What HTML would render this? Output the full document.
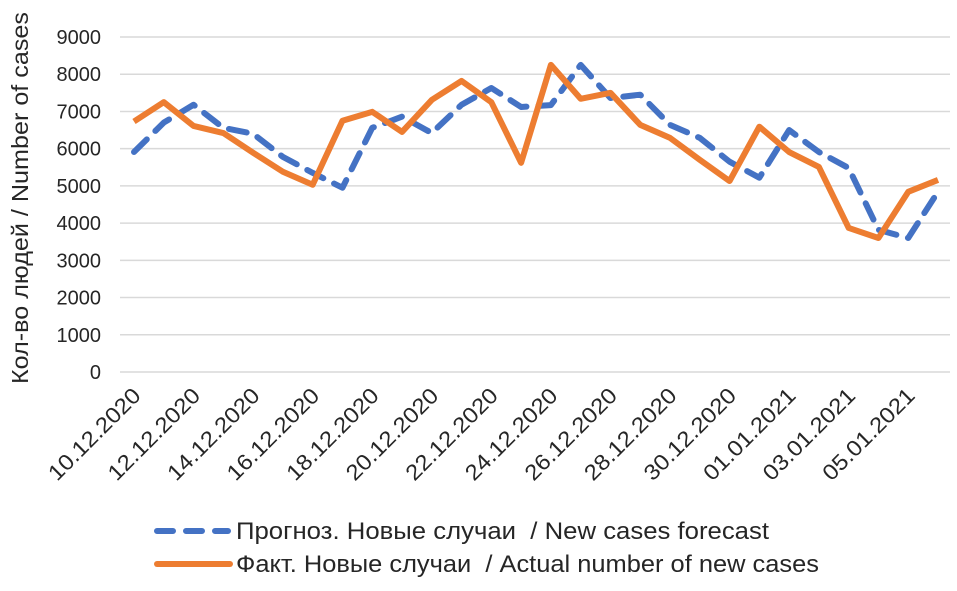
<!DOCTYPE html>
<html><head><meta charset="utf-8"><style>
body{margin:0;background:#fff;font-family:"Liberation Sans",sans-serif;}
svg text{font-family:"Liberation Sans",sans-serif;fill:#262626;white-space:pre;}
</style></head><body>
<svg id="chart" width="957" height="586" xmlns="http://www.w3.org/2000/svg"></svg>
<script>
const dates=["10.12.2020","11.12.2020","12.12.2020","13.12.2020","14.12.2020","15.12.2020","16.12.2020","17.12.2020","18.12.2020","19.12.2020","20.12.2020","21.12.2020","22.12.2020","23.12.2020","24.12.2020","25.12.2020","26.12.2020","27.12.2020","28.12.2020","29.12.2020","30.12.2020","31.12.2020","01.01.2021","02.01.2021","03.01.2021","04.01.2021","05.01.2021","06.01.2021"];
const forecast=[5910,6700,7180,6560,6400,5780,5350,4950,6560,6860,6420,7180,7630,7120,7170,8250,7360,7450,6640,6290,5650,5220,6500,5910,5480,3820,3600,4840];
const actual=[6730,7250,6610,6420,5890,5380,5030,6750,6990,6450,7310,7820,7250,5620,8250,7340,7500,6640,6290,5700,5130,6590,5910,5510,3870,3600,4840,5160];
const yTicks=[0,1000,2000,3000,4000,5000,6000,7000,8000,9000];
const NS="http://www.w3.org/2000/svg",svg=document.getElementById('chart');
const x0=134,x1=938,yb=372,yt=37;
const X=i=>x0+i*(x1-x0)/(dates.length-1);
const Y=v=>yb-(v/9000)*(yb-yt);
function mk(t,a,p){const e=document.createElementNS(NS,t);for(const k in a)e.setAttribute(k,a[k]);(p||svg).appendChild(e);return e;}
yTicks.forEach(v=>{
  if(v>0){const g=mk('line',{x1:120,x2:950,y1:Y(v),y2:Y(v),stroke:'#d9d9d9','stroke-width':1.5});
  
  }
  const t=mk('text',{x:101,y:Y(v)+7,'text-anchor':'end','font-size':20});t.textContent=v;
  
  
});
const ax=mk('line',{x1:120,x2:950,y1:yb,y2:yb,stroke:'#d9d9d9','stroke-width':1.5});


dates.forEach((d,i)=>{if(i%2)return;
  const t=mk('text',{x:X(i)+8,y:yb+25,'text-anchor':'end','font-size':22,textLength:120,lengthAdjust:'spacingAndGlyphs',transform:`rotate(-45 ${X(i)+8} ${yb+25})`});t.textContent=d;
  
  
});
const yt2=mk('text',{x:28,y:198,'text-anchor':'middle','font-size':23,textLength:372,lengthAdjust:'spacingAndGlyphs',transform:'rotate(-90 28 198)'});yt2.textContent="Кол-во людей / Number of cases";


const pts=a=>a.map((v,i)=>X(i)+','+Y(v)).join(' ');
const fl=mk('polyline',{points:pts(forecast),fill:'none',stroke:'#4472c4','stroke-width':6,'stroke-dasharray':'18 12','stroke-linecap':'round','stroke-linejoin':'round'});


const al=mk('polyline',{points:pts(actual),fill:'none',stroke:'#ed7d31','stroke-width':6,'stroke-linejoin':'round'});


const l1=mk('line',{x1:157,x2:228,y1:531,y2:531,stroke:'#4472c4','stroke-width':6,'stroke-dasharray':'16 13','stroke-linecap':'round'});


const t1=mk('text',{x:236,y:539,'font-size':24,textLength:533,lengthAdjust:'spacingAndGlyphs'});t1.textContent="Прогноз. Новые случаи  / New cases forecast";


const l2=mk('line',{x1:157,x2:230,y1:564,y2:564,stroke:'#ed7d31','stroke-width':6,'stroke-linecap':'round'});


const t2=mk('text',{x:236,y:572,'font-size':24,textLength:583,lengthAdjust:'spacingAndGlyphs'});t2.textContent="Факт. Новые случаи  / Actual number of new cases";


</script>
</body></html>
